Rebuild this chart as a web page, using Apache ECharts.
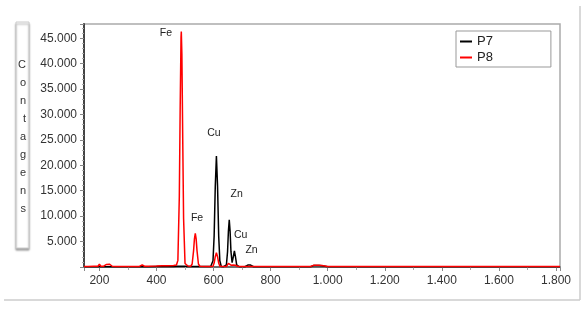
<!DOCTYPE html>
<html>
<head>
<meta charset="utf-8">
<script src="https://cdn.jsdelivr.net/npm/echarts@6/dist/echarts.min.js"></script>
<style>
  html, body { margin: 0; padding: 0; background: #fff; }
  #app { width: 585px; height: 311px; }
</style>
</head>
<body>
<div id="app"></div>
<script>
// energy channel (x) and counts for both samples
var energy = [
  146, 160, 180, 195, 200, 205, 215, 225, 230, 235,
  245, 260, 300, 340, 350, 358, 370, 400, 420, 440,
  460, 470, 475, 480, 483, 486, 487, 489, 492, 495,
  500, 510, 520, 525, 530, 533, 536, 539, 542, 547,
  552, 570, 590, 598, 602, 606, 610, 614, 618, 622,
  627, 635, 640, 645, 649, 652, 655, 658, 661, 665,
  669, 673, 677, 681, 686, 690, 700, 710, 715, 720,
  725, 730, 735, 740, 760, 800, 900, 940, 945, 950,
  960, 970, 980, 985, 1000, 1200, 1400, 1600, 1814
];
var p7 = [
  40, 40, 40, 40, 60, 40, 40, 60, 40, 60,
  40, 40, 40, 40, 80, 40, 40, 100, 100, 100,
  100, 150, 150, 150, 150, 150, 150, 150, 150, 150,
  150, 120, 100, 100, 100, 100, 100, 100, 100, 100,
  100, 100, 100, 1230, 6070, 15860, 21850, 15860, 6070, 1230,
  100, 60, 60, 410, 3010, 7000, 9270, 7000, 3010, 850,
  1950, 3170, 1920, 430, 80, 50, 50, 50, 80, 380,
  600, 380, 80, 50, 50, 50, 50, 50, 250, 280,
  280, 280, 250, 50, 50, 50, 50, 50, 50
];
var p8 = [
  120, 100, 150, 150, 550, 150, 150, 500, 350, 550,
  150, 120, 100, 120, 400, 150, 150, 200, 250, 250,
  300, 400, 1300, 13800, 31200, 45200, 46300, 41900, 25000, 9500,
  700, 200, 150, 590, 3230, 5540, 6630, 5540, 3230, 590,
  150, 120, 100, 160, 780, 2030, 2800, 2030, 780, 160,
  100, 100, 100, 100, 350, 700, 900, 700, 350, 250,
  380, 420, 350, 180, 100, 100, 100, 100, 100, 120,
  150, 120, 100, 100, 100, 100, 100, 100, 300, 320,
  320, 320, 300, 100, 100, 100, 100, 100, 100
];
// element labels placed near the peaks [name, energy, counts]
var peakLabels = [
  ["Fe", 433, 46100],
  ["Fe", 542, 9650],
  ["Cu", 601, 26400],
  ["Zn", 681, 14400],
  ["Cu", 695, 6300],
  ["Zn", 733, 3350]
];
var yName = "Contagens";

function dotThousands(v) {
  return String(v).replace(/\B(?=(\d{3})+(?!\d))/g, ".");
}

function pairs(xs, ys) {
  return xs.map(function (x, i) { return [x, ys[i]]; });
}

var chart = echarts.init(document.getElementById("app"));
chart.setOption({
  animation: false,
  backgroundColor: "#fff",
  textStyle: { fontFamily: "Liberation Sans" },
  grid: {
    left: 84, top: 24, right: 25, bottom: 44,
    show: true, borderColor: "#aaa", borderWidth: 1.5
  },
  legend: {
    data: ["P7", "P8"],
    orient: "vertical",
    left: 456, top: 31,
    padding: [4, 58, 3, 4],
    itemGap: 3,
    itemWidth: 12, itemHeight: 2,
    icon: "rect",
    borderColor: "#999", borderWidth: 1,
    textStyle: { fontSize: 13, color: "#222", fontFamily: "Liberation Sans" }
  },
  xAxis: {
    type: "value",
    min: 146, max: 1814,
    splitNumber: 8,
    splitLine: { show: false },
    axisLine: { lineStyle: { color: "#555", width: 1.5 } },
    axisTick: { show: true, length: 4, lineStyle: { color: "#888" } },
    minorTick: { show: true, splitNumber: 2, length: 3, lineStyle: { color: "#aaa" } },
    axisLabel: {
      color: "#333", fontSize: 12, margin: 8,
      showMinLabel: false, showMaxLabel: false,
      formatter: function (v) { return v % 200 === 0 ? dotThousands(v) : ""; }
    }
  },
  yAxis: {
    type: "value",
    min: 0, max: 47800,
    interval: 5000,
    name: yName.split("").join("\n") + "\n",
    nameLocation: "middle",
    nameRotate: 0,
    nameGap: 58,
    nameTextStyle: { fontSize: 11, lineHeight: 18, color: "#333" },
    splitLine: { show: false },
    axisLine: { show: true, lineStyle: { color: "#444", width: 2 } },
    axisTick: { show: true, length: 4, lineStyle: { color: "#888" } },
    minorTick: { show: true, splitNumber: 5, length: 2, lineStyle: { color: "#aaa" } },
    axisLabel: {
      color: "#333", fontSize: 12, margin: 7,
      showMinLabel: false, showMaxLabel: false,
      formatter: function (v) { return dotThousands(v); }
    }
  },
  graphic: [
    {
      type: "rect", z: -1,
      shape: { x: 16, y: 22, width: 13, height: 226 },
      style: {
        fill: "#fff", stroke: "#ccc", lineWidth: 1,
        shadowColor: "rgba(0,0,0,0.35)", shadowOffsetY: 2, shadowBlur: 2
      }
    },
    { type: "line", shape: { x1: 580, y1: 6, x2: 580, y2: 300 }, style: { stroke: "#ccc", lineWidth: 1.5 } },
    { type: "line", shape: { x1: 4, y1: 300, x2: 580, y2: 300 }, style: { stroke: "#ccc", lineWidth: 1.5 } }
  ],
  series: [
    {
      name: "P7",
      type: "line",
      data: pairs(energy, p7),
      showSymbol: false,
      lineStyle: { color: "#000", width: 1.5 },
      itemStyle: { color: "#000" },
      markPoint: {
        symbol: "circle",
        symbolSize: 1,
        itemStyle: { color: "rgba(0,0,0,0)" },
        label: { show: true, position: "inside", color: "#222", fontSize: 10.5, formatter: "{b}" },
        data: peakLabels.map(function (p) { return { name: p[0], coord: [p[1], p[2]] }; })
      }
    },
    {
      name: "P8",
      type: "line",
      data: pairs(energy, p8),
      showSymbol: false,
      lineStyle: { color: "#f00", width: 1.5 },
      itemStyle: { color: "#f00" }
    }
  ]
});
</script>
</body>
</html>
